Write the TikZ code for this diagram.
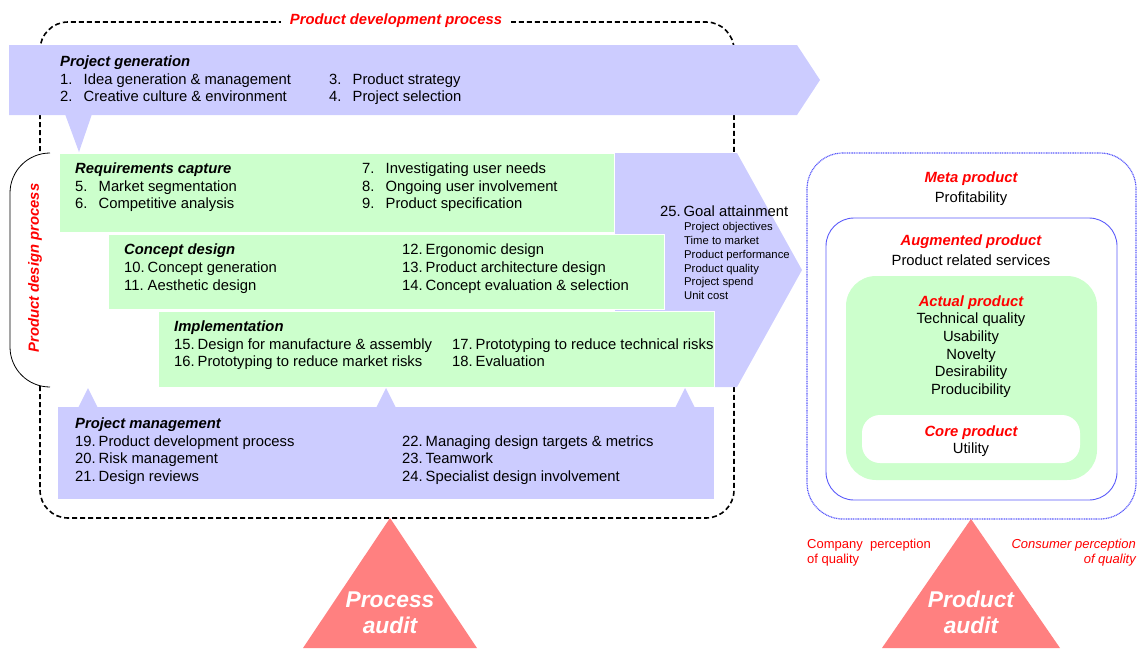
\documentclass[tikz,border=0pt]{standalone}
\usepackage{fontspec}
\setmainfont{Liberation Sans}
\definecolor{lav}{RGB}{204,204,255}
\definecolor{mint}{RGB}{204,255,204}
\definecolor{salmon}{RGB}{255,128,128}
\definecolor{panelblue}{RGB}{90,90,250}
\definecolor{hotred}{RGB}{255,0,0}
\newcommand\bodysize{\fontsize{14.8}{17.7}\selectfont}
\newcommand\numitem[2]{\makebox[23.5pt][l]{#1}#2}
\begin{document}
\begin{tikzpicture}[x=1pt,y=-1pt,
  txt/.style={inner sep=0pt, anchor=base west, font=\bodysize},
  ttl/.style={txt, font=\bodysize\bfseries\itshape},
  smalltxt/.style={inner sep=0pt, anchor=base west, font=\fontsize{11.3}{13.8}\selectfont},
  ctr/.style={inner sep=0pt, anchor=base, font=\bodysize},
  redttl/.style={ctr, font=\bodysize\bfseries\itshape, text=hotred},
  audit/.style={inner sep=0pt, anchor=base, text=white, font=\fontsize{22.8}{26}\selectfont\bfseries\itshape},
  note/.style={inner sep=0pt, font=\fontsize{13}{15}\selectfont, text=hotred},
  greenbox/.style={fill=mint, draw=white, line width=1pt}
]
\useasboundingbox (0,0) rectangle (1137,648);

% ---- product development process frame ----
\draw[line width=1.6pt, dash pattern=on 5pt off 3pt, rounded corners=28pt] (40,22) rectangle (734,518);
\node[redttl, fill=white, inner xsep=9pt, inner ysep=3pt] (pdp) at (396,24) {Product development process};

% ---- project generation arrow ----
\fill[lav] (9,45) -- (797,45) -- (820,80) -- (797,115) -- (9,115) -- cycle;
\fill[lav] (65,114) -- (92,114) -- (79,152) -- cycle;
\node[ttl] (pg)  at (60,66)  {Project generation};
\node[txt] (pg1) at (60,84)  {\numitem{1.}{Idea generation \& management}};
\node[txt] (pg2) at (60,101) {\numitem{2.}{Creative culture \& environment}};
\node[txt] (pg3) at (329,84) {\numitem{3.}{Product strategy}};
\node[txt] (pg4) at (329,101){\numitem{4.}{Project selection}};

% ---- product design process bracket ----
\draw[line width=0.8pt, fill=white, rounded corners=40pt] (50,153) -- (10,153) -- (10,387) -- (50,387);
\node[inner sep=0pt, rotate=90, font=\bodysize\bfseries\itshape, text=hotred] (pdes) at (35,268) {Product design process};

% ---- goal attainment arrow ----
\fill[lav] (615,153) -- (737,153) -- (802,270) -- (737,387) -- (615,387) -- cycle;

% ---- design stages ----
\draw[greenbox] (59,153) rectangle (614,232);
\draw[greenbox] (108,234) rectangle (664,309);
\draw[greenbox] (158,311) rectangle (714,387);

\node[ttl] (rc)  at (75,173)  {Requirements capture};
\node[txt] (rc5) at (75,191)  {\numitem{5.}{Market segmentation}};
\node[txt] (rc6) at (75,208)  {\numitem{6.}{Competitive analysis}};
\node[txt] (rc7) at (362,173) {\numitem{7.}{Investigating user needs}};
\node[txt] (rc8) at (362,191) {\numitem{8.}{Ongoing user involvement}};
\node[txt] (rc9) at (362,208) {\numitem{9.}{Product specification}};

\node[ttl] (cd)   at (124,254) {Concept design};
\node[txt] (cd10) at (124,272) {\numitem{10.}{Concept generation}};
\node[txt] (cd11) at (124,290) {\numitem{11.}{Aesthetic design}};
\node[txt] (cd12) at (402,254) {\numitem{12.}{Ergonomic design}};
\node[txt] (cd13) at (402,272) {\numitem{13.}{Product architecture design}};
\node[txt] (cd14) at (402,290) {\numitem{14.}{Concept evaluation \& selection}};

\node[ttl] (im)   at (174,331) {Implementation};
\node[txt] (im15) at (174,349) {\numitem{15.}{Design for manufacture \& assembly}};
\node[txt] (im16) at (174,366) {\numitem{16.}{Prototyping to reduce market risks}};
\node[txt] (im17) at (452,349) {\numitem{17.}{Prototyping to reduce technical risks}};
\node[txt] (im18) at (452,366) {\numitem{18.}{Evaluation}};

\node[txt] (ga)  at (660,216) {\numitem{25.}{Goal attainment}};
\node[smalltxt] (ga1) at (684,230) {Project objectives};
\node[smalltxt] (ga2) at (684,244) {Time to market};
\node[smalltxt] (ga3) at (684,258) {Product performance};
\node[smalltxt] (ga4) at (684,272) {Product quality};
\node[smalltxt] (ga5) at (684,285) {Project spend};
\node[smalltxt] (ga6) at (684,299) {Unit cost};

% ---- project management ----
\fill[lav] (58,407) rectangle (714,499);
\fill[lav] (78,408) -- (98,408) -- (88,388) -- cycle;
\fill[lav] (376,408) -- (396,408) -- (386,388) -- cycle;
\fill[lav] (675,408) -- (695,408) -- (685,388) -- cycle;
\node[ttl] (pm)   at (75,428)  {Project management};
\node[txt] (pm19) at (75,446)  {\numitem{19.}{Product development process}};
\node[txt] (pm20) at (75,463)  {\numitem{20.}{Risk management}};
\node[txt] (pm21) at (75,481)  {\numitem{21.}{Design reviews}};
\node[txt] (pm22) at (402,446) {\numitem{22.}{Managing design targets \& metrics}};
\node[txt] (pm23) at (402,463) {\numitem{23.}{Teamwork}};
\node[txt] (pm24) at (402,481) {\numitem{24.}{Specialist design involvement}};

% ---- process audit ----
\fill[salmon] (390,518) -- (477,648) -- (303,648) -- cycle;
\node[audit] (pa1) at (390,607) {Process};
\node[audit] (pa2) at (390,633) {audit};

% ---- product levels ----
\draw[panelblue, line width=1.2pt, dash pattern=on 1pt off 0.7pt, rounded corners=36pt] (807,153) rectangle (1136,519);
\draw[panelblue, line width=0.9pt, rounded corners=28pt] (826,218) rectangle (1117,500);
\fill[mint, rounded corners=30pt] (846,276) rectangle (1097,480);
\fill[white, rounded corners=18pt] (862,415) rectangle (1080,463);

\node[redttl] (meta) at (971,182) {Meta product};
\node[ctr] (prof) at (971,202) {Profitability};
\node[redttl] (aug) at (971,245) {Augmented product};
\node[ctr] (serv) at (971,265) {Product related services};
\node[redttl] (act) at (971,306) {Actual product};
\node[ctr] (tq)  at (971,323) {Technical quality};
\node[ctr] (us)  at (971,341) {Usability};
\node[ctr] (nov) at (971,359) {Novelty};
\node[ctr] (des) at (971,376) {Desirability};
\node[ctr] (pro) at (971,394) {Producibility};
\node[redttl] (core) at (971,436) {Core product};
\node[ctr] (util) at (971,453) {Utility};

\node[note, anchor=base west] (cp1) at (807,548) {Company\ \ perception};
\node[note, anchor=base west] (cp2) at (807,563) {of quality};
\node[note, anchor=base east, font=\fontsize{13}{15}\selectfont\itshape] (up1) at (1136,548) {Consumer perception};
\node[note, anchor=base east, font=\fontsize{13}{15}\selectfont\itshape] (up2) at (1136,563) {of quality};

% ---- product audit ----
\fill[salmon] (971,519) -- (1060,648) -- (882,648) -- cycle;
\node[audit] (pra1) at (971,607) {Product};
\node[audit] (pra2) at (971,633) {audit};
\end{tikzpicture}
\end{document}
